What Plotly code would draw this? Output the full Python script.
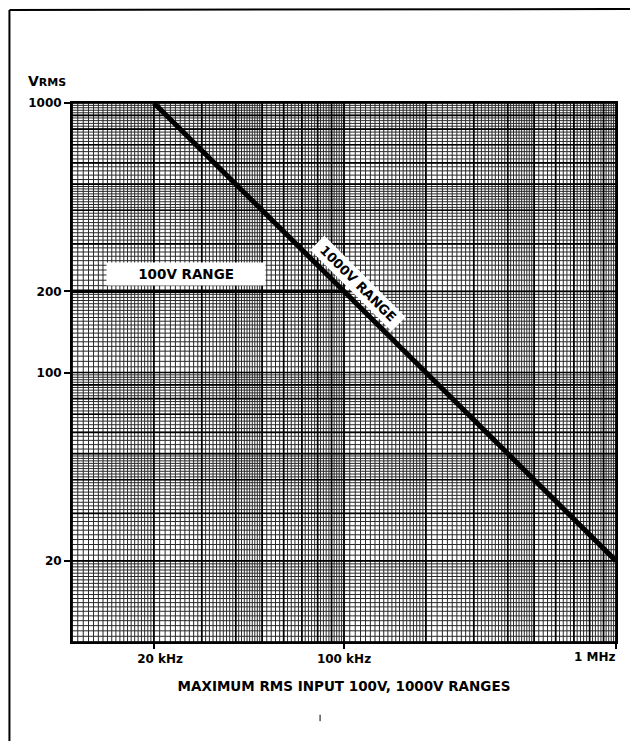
import numpy as np
import plotly.graph_objects as go

# ---- data ----
freq_1000v = [20e3, 1e6]      # Hz
vrms_1000v = [1000, 20]       # V
freq_100v = [1e4, 1e5]        # Hz
vrms_100v = [200, 200]        # V

x_tick_vals = [2e4, 1e5, 1e6]
x_tick_text = ["20 kHz", "100 kHz", "1 MHz"]
y_tick_vals = [1000, 200, 100, 20]
y_tick_text = ["1000", "200", "100", "20"]

x_title = "MAXIMUM RMS INPUT 100V, 1000V RANGES"
label_100v = "100V RANGE"
label_1000v = "1000V RANGE"

FONT = "DejaVu Sans"

# ---- log-paper grid values ----
def paper_vals(exp_lo, exp_hi, mults):
    out = []
    for e in range(exp_lo, exp_hi):
        for m in mults:
            out.append(round(m * 10 ** e, 6))
    out.append(10 ** exp_hi)
    return sorted(set(out))

fine_mults = (list(np.round(np.arange(1, 2, 0.05), 3)) + list(np.round(np.arange(2, 5, 0.1), 3))
              + list(np.round(np.arange(5, 10, 0.2), 3)))
major_mults = list(range(1, 10))

xf = paper_vals(4, 6, fine_mults)
yf = paper_vals(1, 3, fine_mults)
xm = paper_vals(4, 6, major_mults)
ym = paper_vals(1, 3, major_mults)

X0, X1 = 1e4, 1e6
Y0, Y1 = 10, 1000

def grid_xy(xs, ys):
    gx, gy = [], []
    for v in xs:
        gx += [v, v, None]
        gy += [Y0, Y1, None]
    for v in ys:
        gx += [X0, X1, None]
        gy += [v, v, None]
    return gx, gy

fig = go.Figure()
gx, gy = grid_xy(xf, yf)
fig.add_trace(go.Scatter(x=gx, y=gy, mode="lines", line=dict(color="#2a2a2a", width=1),
                         hoverinfo="skip", showlegend=False))
gx, gy = grid_xy(xm, ym)
fig.add_trace(go.Scatter(x=gx, y=gy, mode="lines", line=dict(color="#000000", width=1.7),
                         hoverinfo="skip", showlegend=False))

fig.add_trace(go.Scatter(x=freq_100v, y=vrms_100v, mode="lines",
                         line=dict(color="black", width=3.5), showlegend=False))
fig.add_trace(go.Scatter(x=freq_1000v, y=vrms_1000v, mode="lines",
                         line=dict(color="black", width=5), showlegend=False))

nb = "\u00a0"
x_ticktext = ["<b>" + nb * 3 + x_tick_text[0] + "</b>",
              "<b>" + x_tick_text[1] + "</b>",
              ""]

fig.update_xaxes(type="log", range=[4, 6], tickvals=x_tick_vals, ticktext=x_ticktext,
                 showgrid=False, zeroline=False, ticks="outside", ticklen=5, tickwidth=1.5,
                 tickcolor="black", showline=True, linecolor="black", linewidth=2, mirror=True,
                 automargin=False,
                 tickfont=dict(family=FONT, size=12, color="black"),
                 title=dict(text="<b>" + x_title + "</b>", font=dict(family=FONT, size=13.5, color="black"),
                            standoff=16))
fig.update_yaxes(type="log", range=[1, 3], tickvals=y_tick_vals,
                 ticktext=["<b>" + t + "</b>" for t in y_tick_text],
                 showgrid=False, zeroline=False, ticks="outside", ticklen=6, tickwidth=1.5,
                 tickcolor="black", showline=True, linecolor="black", linewidth=2, mirror=True,
                 automargin=False,
                 tickfont=dict(family=FONT, size=12, color="black"))

# "1 MHz" label, right-aligned at the 1 MHz tick
fig.add_annotation(x=np.log10(x_tick_vals[2]), y=0, xref="x", yref="paper",
                   xanchor="right", yanchor="top", yshift=-6, xshift=2,
                   text="<b>" + x_tick_text[2] + "</b>", showarrow=False,
                   font=dict(family=FONT, size=12, color="black"))

fig.add_annotation(x=np.log10(26200), y=np.log10(233), xref="x", yref="y",
                   text="<b>" + nb * 6 + label_100v + nb * 6 + "</b>", showarrow=False,
                   font=dict(family=FONT, size=13.5, color="black"), bgcolor="white", borderpad=3)
fig.add_annotation(x=np.log10(112500), y=np.log10(214), xref="x", yref="y",
                   text="<b>" + nb + label_1000v + nb + "</b>", showarrow=False, textangle=45,
                   font=dict(family=FONT, size=13, color="black"), bgcolor="white", borderpad=2)

# y-axis title V_RMS
fig.add_annotation(x=-0.0846, y=1.022, xref="paper", yref="paper", xanchor="left", yanchor="bottom",
                   text="<b>V<span style='font-size:11px'>RMS</span></b>", showarrow=False,
                   font=dict(family=FONT, size=14, color="black"))

# page frame from scan
fig.add_shape(type="line", xref="paper", yref="paper", x0=-0.115, x1=-0.115, y0=1.1725, y1=-0.2,
              line=dict(color="black", width=2))
fig.add_shape(type="line", xref="paper", yref="paper", x0=-0.115, x1=1.05, y0=1.1725, y1=1.1745,
              line=dict(color="black", width=2))
fig.add_shape(type="line", xref="paper", yref="paper", x0=0.456, x1=0.456, y0=-0.135, y1=-0.147,
              line=dict(color="black", width=1))

fig.update_layout(width=622, height=733, margin=dict(l=64, r=14, t=95, b=99),
                  paper_bgcolor="white", plot_bgcolor="white", showlegend=False)

fig.write_html("out.html")
